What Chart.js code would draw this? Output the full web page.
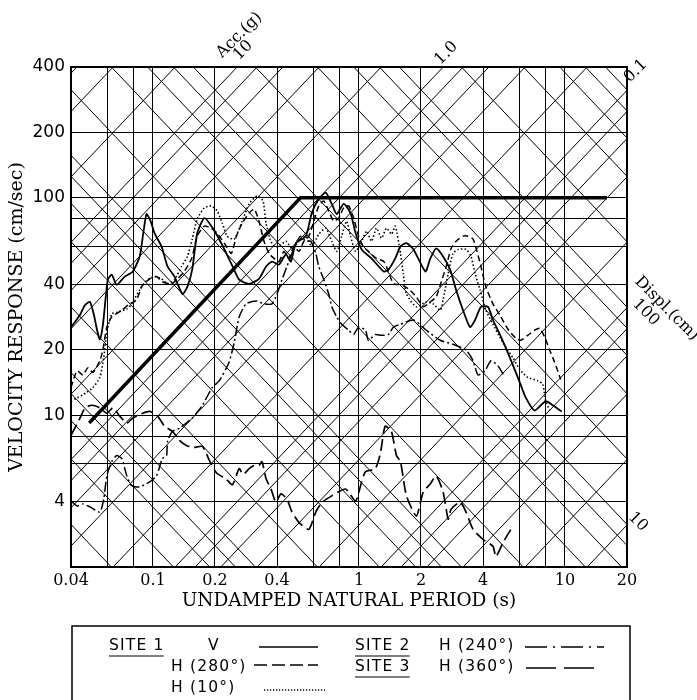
<!DOCTYPE html>
<html>
<head>
<meta charset="utf-8">
<title>Velocity response spectra</title>
<script src="https://cdn.jsdelivr.net/npm/chart.js@4.4.1/dist/chart.umd.min.js"></script>
<style>
  html, body { margin: 0; padding: 0; background: #fff; }
  #box { width: 697px; height: 700px; }
  canvas { display: block; }
</style>
</head>
<body>
<div id="box"><canvas id="spectra" width="697" height="700"></canvas></div>
<script>
// Response spectra as [undamped natural period (s), velocity response (cm/sec)]
const site1V = [[0.04,25.4],[0.0418,26.8],[0.0442,28.9],[0.0468,32.1],[0.0494,33.2],[0.0517,28.9],[0.0534,24.9],[0.0552,22.3],[0.0571,25.9],[0.059,35],[0.0604,42],[0.0631,44.3],[0.0667,39.8],[0.0729,43.4],[0.0797,45.7],[0.0862,53.7],[0.090,70.2],[0.0931,84.2],[0.0974,78.1],[0.1018,68.7],[0.110,59.8],[0.1177,48.3],[0.1272,43.4],[0.139,36.1],[0.147,39.0],[0.155,46.7],[0.164,68.7],[0.1775,80.7],[0.192,74.1],[0.2146,61.8],[0.240,49.8],[0.262,42.0],[0.293,40.2],[0.327,42.4],[0.354,48.3],[0.378,50.9],[0.409,49.3],[0.442,54.9],[0.467,50.9],[0.494,61.8],[0.552,66.6],[0.590,85.1],[0.638,98.9],[0.690,105.5],[0.738,93.8],[0.78,84.2],[0.843,93.8],[0.91,85.1],[0.963,68.7],[1.03,57.9],[1.15,52.6],[1.32,45.8],[1.39,46.7],[1.50,52.6],[1.59,59.8],[1.70,61.8],[1.84,57.9],[2.10,45.8],[2.22,52.6],[2.37,58.5],[2.56,53.7],[2.77,46.7],[2.96,37.7],[3.20,30.4],[3.46,25.4],[3.66,27.4],[3.91,31.5],[4.23,31.5],[4.47,27.4],[4.83,23.5],[5.40,18.4],[6.04,14.1],[6.46,12.0],[7.13,10.5],[8.06,11.6],[8.72,11.1],[9.64,10.4]];

const site1H280 = [[0.04,13.4],[0.0428,16.0],[0.0457,15.3],[0.0483,16.5],[0.0511,15.7],[0.0552,17.8],[0.0571,19.9],[0.0597,25.4],[0.0631,28.3],[0.0706,30.4],[0.0771,32.5],[0.0833,33.9],[0.0881,39.0],[0.0964,42.4],[0.104,43.4],[0.111,41.1],[0.123,40.2],[0.1316,42.4],[0.142,45.8],[0.154,52.6],[0.164,66.6],[0.1775,74.1],[0.192,72.5],[0.205,68.7],[0.222,61.8],[0.240,55.5],[0.254,66.6],[0.271,76.5],[0.293,85.1],[0.310,88.9],[0.327,78.1],[0.346,63.1],[0.366,55.5],[0.387,52.6],[0.409,50.9],[0.432,56.7],[0.457,52.6],[0.483,59.8],[0.511,56.7],[0.540,63.1],[0.571,66.6],[0.604,78.1],[0.638,91.8],[0.675,96.8],[0.713,87.0],[0.754,78.1],[0.797,80.7],[0.843,89.9],[0.891,91.8],[0.942,80.7],[0.996,66.6],[1.05,59.8],[1.11,56.7],[1.216,52.6],[1.32,50.9],[1.39,45.8],[1.47,40.2],[1.59,39.8],[1.74,38.1],[1.90,35.0],[2.05,31.5],[2.22,33.2],[2.37,35.0],[2.51,41.1],[2.65,48.3],[2.80,58.5],[2.96,63.1],[3.20,66.6],[3.38,66.6],[3.58,64.5],[3.74,56.7],[3.91,48.3],[4.13,39.0],[4.47,32.5],[4.83,28.9],[5.28,24.9],[5.77,22.6],[6.10,22.1],[6.60,23.3],[7.13,24.6],[7.54,25.1],[7.98,22.8],[8.43,19.9],[8.91,17.5],[9.53,14.6]];

const site1H10 = [[0.04,11.6],[0.0428,12.0],[0.0457,12.4],[0.0511,13.4],[0.0552,14.9],[0.0577,18.4],[0.0597,24.1],[0.0631,29.2],[0.0675,29.8],[0.0746,30.8],[0.0788,32.5],[0.0862,37.7],[0.0942,42.0],[0.1018,43.4],[0.110,42.4],[0.1177,40.2],[0.1272,42.0],[0.1375,48.3],[0.147,53.7],[0.155,64.5],[0.164,79.8],[0.1775,89.9],[0.192,91.8],[0.205,87.0],[0.217,76.5],[0.229,66.6],[0.248,64.5],[0.271,78.1],[0.293,93.8],[0.320,102],[0.342,96.8],[0.354,76.5],[0.370,64.5],[0.387,59.8],[0.409,59.8],[0.442,63.1],[0.473,58.5],[0.511,63.1],[0.552,66.6],[0.590,59.8],[0.638,68.0],[0.690,72.5],[0.738,63.1],[0.78,56.7],[0.824,66.6],[0.871,78.1],[0.91,66.6],[0.963,56.7],[1.03,63.1],[1.09,70.2],[1.15,63.1],[1.216,72.5],[1.286,65.2],[1.36,72.5],[1.44,68.0],[1.50,74.1],[1.59,55.5],[1.64,44.8],[1.70,36.1],[1.90,31.5],[2.12,33.2],[2.29,32.5],[2.48,30.4],[2.56,33.9],[2.71,44.8],[2.86,55.5],[3.03,57.9],[3.31,57.9],[3.50,53.7],[3.66,44.8],[3.87,37.7],[4.13,30.4],[4.47,26.2],[4.83,22.8],[5.17,20.5],[5.58,18.4],[6.04,16.2],[6.60,14.9],[7.38,14.4],[7.80,13.9],[8.06,11.6],[8.43,10.5]];

const site2H240 = [[0.04,4.03],[0.0428,3.82],[0.0457,3.90],[0.0494,3.78],[0.0552,3.58],[0.0577,4.11],[0.0597,5.26],[0.0631,6.11],[0.0667,6.52],[0.0706,6.31],[0.0746,5.26],[0.0788,4.73],[0.0862,4.68],[0.0964,4.93],[0.104,5.26],[0.111,6.31],[0.1164,6.52],[0.1177,7.57],[0.1244,8.42],[0.1345,8.70],[0.155,9.68],[0.1737,11.1],[0.194,13.4],[0.210,14.4],[0.234,17.5],[0.248,21.6],[0.262,28.3],[0.283,32.5],[0.317,33.5],[0.346,32.5],[0.378,32.5],[0.400,36.1],[0.423,42.0],[0.447,48.3],[0.473,55.5],[0.494,61.8],[0.522,66.6],[0.552,63.1],[0.584,63.1],[0.617,55.5],[0.638,48.3],[0.675,42.0],[0.713,36.1],[0.738,31.5],[0.78,28.3],[0.824,26.2],[0.891,24.6],[0.942,23.5],[0.996,25.4],[1.076,24.6],[1.11,22.1],[1.20,23.5],[1.286,23.3],[1.39,23.5],[1.47,25.4],[1.59,26.2],[1.84,27.4],[2.12,24.6],[2.48,22.1],[2.86,21.2],[3.31,19.9],[3.58,17.8],[3.78,15.3],[4.09,16.0],[4.37,17.8],[4.72,16.9],[5.05,15.2]];

const site3H360 = [[0.04,8.07],[0.0442,9.68],[0.0468,10.8],[0.0506,11.1],[0.0552,10.8],[0.0597,10.2],[0.0639,10.8],[0.069,9.9],[0.0746,9.18],[0.0797,9.68],[0.0892,10.2],[0.0964,10.4],[0.1053,9.9],[0.1138,8.89],[0.1244,8.42],[0.1345,7.65],[0.1453,7.25],[0.158,7.1],[0.1737,7.18],[0.188,6.18],[0.203,5.43],[0.226,5.09],[0.243,4.78],[0.262,5.67],[0.274,5.33],[0.293,5.67],[0.310,5.87],[0.327,5.87],[0.338,6.11],[0.354,5.09],[0.374,4.57],[0.395,3.98],[0.418,4.34],[0.447,4.11],[0.473,3.58],[0.511,3.21],[0.571,2.98],[0.617,3.58],[0.664,3.98],[0.738,4.25],[0.861,4.57],[0.963,4.02],[1.03,4.93],[1.076,5.49],[1.20,5.67],[1.27,6.66],[1.34,8.89],[1.436,8.42],[1.52,6.52],[1.59,6.11],[1.70,4.25],[1.90,3.43],[2.05,4.43],[2.22,4.83],[2.37,5.26],[2.56,4.43],[2.71,3.32],[2.80,3.69],[3.10,3.98],[3.31,3.58],[3.58,2.98],[4.00,2.68],[4.47,2.49],[4.62,2.23],[5.0,2.59],[5.46,2.98]];

// Design spectrum: constant-acceleration ramp, then constant-velocity plateau
const designSpectrum = [[0.049,9.2],[0.52,100],[16,100]];

// Axis grid and tick values
const periodGrid = [0.04, 0.06, 0.08, 0.1, 0.2, 0.4, 0.6, 0.8, 1, 2, 4, 6, 8, 10, 20];
const periodTicks = [0.04, 0.1, 0.2, 0.4, 1, 2, 4, 10, 20];
const periodTickLabels = ['0.04', '0.1', '0.2', '0.4', '1', '2', '4', '10', '20'];
const velocityGrid = [2, 4, 6, 8, 10, 20, 40, 60, 80, 100, 200, 400];
const velocityTicks = [4, 10, 20, 40, 100, 200, 400];
const velocityTickLabels = ['4', '10', '20', '40', '100', '200', '400'];

// Tripartite diagonals: constant pseudo-acceleration (g) and displacement (cm)
const accelGrid = [0.001, 0.002, 0.004, 0.006, 0.008, 0.01, 0.02, 0.04, 0.06, 0.08, 0.1, 0.2, 0.4, 0.6, 0.8, 1, 2, 4, 6, 8, 10, 20, 40, 60];
const displGrid = [0.01, 0.02, 0.04, 0.06, 0.08, 0.1, 0.2, 0.4, 0.6, 0.8, 1, 2, 4, 6, 8, 10, 20, 40, 60, 80, 100, 200, 400, 600, 800, 1000];
const accelLabelValues = [10, 1, 0.1];
const accelLabelTexts = ['10', '1.0', '0.1'];
const displLabelValues = [100, 10];
const displLabelTexts = ['100', '10'];

const TWO_PI = 2 * Math.PI;
const G = 980.665;
const velFromAccel = (a, t) => a * G * t / TWO_PI;
const velFromDispl = (d, t) => TWO_PI * d / t;
const toXY = arr => arr.map(p => ({ x: p[0], y: p[1] }));
const near = (a, b) => Math.abs(a - b) <= 1e-6 * Math.max(Math.abs(a), Math.abs(b));

const SERIF = "'DejaVu Serif', 'Liberation Serif', serif";
const SANS = "'DejaVu Sans', 'Liberation Sans', sans-serif";

const datasets = [];
accelGrid.forEach(a => datasets.push({
  label: 'acc', data: [{ x: 0.02, y: velFromAccel(a, 0.02) }, { x: 40, y: velFromAccel(a, 40) }],
  borderColor: '#000', borderWidth: 1, tension: 0, pointRadius: 0
}));
displGrid.forEach(d => datasets.push({
  label: 'displ', data: [{ x: 0.02, y: velFromDispl(d, 0.02) }, { x: 40, y: velFromDispl(d, 40) }],
  borderColor: '#000', borderWidth: 1, tension: 0, pointRadius: 0
}));

const curveStyle = { borderColor: '#000', pointRadius: 0, tension: 0.2, fill: false };
datasets.push(Object.assign({ label: 'SITE 3 H (360°)', data: toXY(site3H360), borderWidth: 1.7, borderDash: [12, 5] }, curveStyle));
datasets.push(Object.assign({ label: 'SITE 2 H (240°)', data: toXY(site2H240), borderWidth: 1.5, borderDash: [10, 3, 2, 3] }, curveStyle));
datasets.push(Object.assign({ label: 'SITE 1 H (10°)', data: toXY(site1H10), borderWidth: 1.6, borderDash: [1.5, 2.2] }, curveStyle));
datasets.push(Object.assign({ label: 'SITE 1 H (280°)', data: toXY(site1H280), borderWidth: 1.5, borderDash: [6, 3.5] }, curveStyle));
datasets.push(Object.assign({ label: 'SITE 1 V', data: toXY(site1V), borderWidth: 1.8 }, curveStyle));
datasets.push({ label: 'design', data: toXY(designSpectrum), borderColor: '#000', borderWidth: 3.4, tension: 0, pointRadius: 0 });

// Frame, diagonal scale labels and the legend box
const annotate = {
  id: 'annotate',
  afterDraw(chart) {
    const { ctx, chartArea: a } = chart;
    const xs = chart.scales.x, ys = chart.scales.y;
    ctx.save();
    ctx.strokeStyle = '#000';
    ctx.lineWidth = 2;
    ctx.strokeRect(a.left, a.top, a.right - a.left, a.bottom - a.top);

    ctx.fillStyle = '#000';
    ctx.textAlign = 'center';
    ctx.textBaseline = 'middle';
    ctx.font = '16px ' + SERIF;

    // acceleration labels at the upper ends of the lines
    const along = [16, 12, 20];
    accelLabelValues.forEach((g, i) => {
      let t = TWO_PI * ys.max / (g * G), px, py;
      if (t <= xs.max) { px = xs.getPixelForValue(t); py = ys.getPixelForValue(ys.max); }
      else { px = xs.getPixelForValue(xs.max); py = ys.getPixelForValue(velFromAccel(g, xs.max)); }
      ctx.save();
      ctx.translate(px, py);
      ctx.rotate(-Math.PI / 4);
      ctx.fillText(accelLabelTexts[i], along[i], -7.5);
      if (i === 0) ctx.fillText('Acc.(g)', 24, -21);
      ctx.restore();
    });

    // displacement labels at the right-hand ends of the lines
    const alongD = [17, 6];
    displLabelValues.forEach((d, i) => {
      const px = xs.getPixelForValue(xs.max);
      const py = ys.getPixelForValue(velFromDispl(d, xs.max));
      ctx.save();
      ctx.translate(px, py);
      ctx.rotate(Math.PI / 4);
      ctx.fillText(displLabelTexts[i], alongD[i], -9.5);
      if (i === 0) ctx.fillText('Displ.(cm)', 29, -27);
      ctx.restore();
    });

    // legend
    ctx.lineWidth = 1.5;
    ctx.strokeRect(72, 626, 558, 90);
    ctx.font = '15.5px ' + SANS;
    try { ctx.letterSpacing = '1.2px'; } catch (e) {}
    ctx.textAlign = 'left';
    const text = (s, x, y, under) => {
      ctx.fillText(s, x, y);
      if (under) {
        const w = ctx.measureText(s).width;
        ctx.lineWidth = 1.2;
        ctx.beginPath(); ctx.moveTo(x, y + 10); ctx.lineTo(x + w - 1, y + 10); ctx.stroke();
      }
    };
    const sample = (x1, x2, y, dash, w) => {
      ctx.save();
      ctx.lineWidth = w;
      ctx.setLineDash(dash);
      ctx.beginPath(); ctx.moveTo(x1, y); ctx.lineTo(x2, y); ctx.stroke();
      ctx.restore();
    };
    const r1 = 646, r2 = 667, r3 = 688;
    text('SITE 1', 109, r1, true);
    ctx.textAlign = 'center'; text('V', 214, r1); ctx.textAlign = 'left';
    sample(259, 318, r1 + 1, [], 1.5);
    text('H (280°)', 171, r2);
    sample(254, 318, r2 - 2, [13, 5], 1.5);
    text('H (10°)', 171, r3);
    sample(264, 325, r3 + 2, [1.2, 1.8], 1.5);
    text('SITE 2', 355, r1, true);
    text('H (240°)', 439, r1);
    sample(525, 604, r1 + 1, [22, 6, 2, 6], 1.5);
    text('SITE 3', 355, r2, true);
    text('H (360°)', 439, r2);
    sample(526, 598, r2 + 1, [30, 8], 1.5);
    ctx.restore();
  }
};

const labelFor = (values, labels) => v => {
  const i = values.findIndex(t => near(t, v));
  return i >= 0 ? labels[i] : '';
};

new Chart(document.getElementById('spectra'), {
  type: 'line',
  data: { datasets },
  options: {
    responsive: false,
    animation: false,
    devicePixelRatio: 1,
    events: [],
    layout: { padding: { left: 0, top: 67, right: 70, bottom: 81 } },
    plugins: { legend: { display: false }, tooltip: { enabled: false } },
    scales: {
      x: {
        type: 'logarithmic', min: 0.04, max: 20,
        afterBuildTicks: s => { s.ticks = periodGrid.map(v => ({ value: v })); },
        afterFit: s => { s.height = 52; },
        grid: { color: '#000', lineWidth: 1, drawTicks: false },
        border: { display: false },
        ticks: {
          autoSkip: false, maxRotation: 0, minRotation: 0, padding: 4, color: '#000',
          font: { family: SERIF, size: 16 },
          callback: labelFor(periodTicks, periodTickLabels)
        },
        title: {
          display: true, text: 'UNDAMPED NATURAL PERIOD (s)', color: '#000',
          font: { family: SERIF, size: 18.5 }, padding: { top: 0, bottom: 7 }
        }
      },
      y: {
        type: 'logarithmic', min: 2, max: 400,
        afterBuildTicks: s => { s.ticks = velocityGrid.map(v => ({ value: v })); },
        afterFit: s => { s.width = 71; },
        grid: { color: '#000', lineWidth: 1, drawTicks: false },
        border: { display: false },
        ticks: {
          autoSkip: false, padding: 6, color: '#000',
          font: { family: SANS, size: 17 },
          callback: labelFor(velocityTicks, velocityTickLabels)
        },
        title: {
          display: true, text: 'VELOCITY RESPONSE (cm/sec)', color: '#000',
          font: { family: SERIF, size: 19 }, padding: { top: 6, bottom: 0 }
        }
      }
    }
  },
  plugins: [annotate]
});
</script>
</body>
</html>
